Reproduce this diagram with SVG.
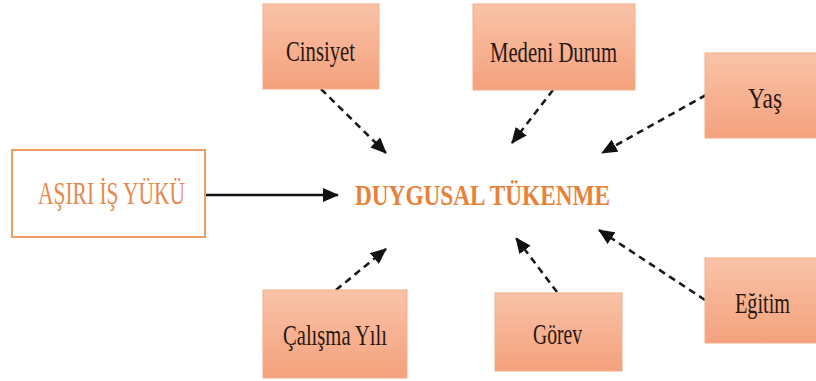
<svg xmlns="http://www.w3.org/2000/svg" width="816" height="381" viewBox="0 0 816 381">
<defs>
<linearGradient id="fillG" x1="0" y1="0" x2="0" y2="1">
<stop offset="0" stop-color="#F9C3A8"/>
<stop offset="1" stop-color="#F4A17C"/>
</linearGradient>
<marker id="ah" markerUnits="userSpaceOnUse" markerWidth="16" markerHeight="14" viewBox="0 0 16 14" refX="15" refY="7" orient="auto">
<path d="M0,0 L16,7 L0,14 z" fill="#111"/>
</marker>
<style>
.box{fill:url(#fillG);stroke:#F2AE8C;stroke-width:1}
.lbl{font-family:"Liberation Serif","Times New Roman",serif;font-size:30px;fill:#2A1710}
.dash{fill:none;stroke:#1a1a1a;stroke-width:2.6;stroke-dasharray:7 5;marker-end:url(#ah)}
.solid{fill:none;stroke:#111;stroke-width:2.6;marker-end:url(#ah)}
</style>
</defs>
<rect width="816" height="381" fill="#fff"/>
<g id="connectors">
<line class="solid" x1="206" y1="195" x2="338" y2="195"/>
<line class="dash" x1="321" y1="89" x2="386" y2="153"/>
<line class="dash" x1="553" y1="90" x2="512" y2="143"/>
<line class="dash" x1="706" y1="95" x2="602" y2="153"/>
<line class="dash" x1="336" y1="290" x2="386" y2="249"/>
<line class="dash" x1="557" y1="292" x2="516" y2="238"/>
<line class="dash" x1="705" y1="300" x2="599" y2="230"/>
</g>
<g id="asiri">
<rect x="12" y="150" width="193" height="87" fill="#fff" stroke="#EE9C66" stroke-width="2"/>
<text x="38" y="204" font-family="Liberation Serif,serif" font-size="31" fill="#E5894D" textLength="147" lengthAdjust="spacingAndGlyphs">AŞIRI İŞ YÜKÜ</text>
</g>
<g id="duygusal">
<text x="355" y="205" font-family="Liberation Serif,serif" font-size="30" font-weight="bold" fill="#E8823A" textLength="255" lengthAdjust="spacingAndGlyphs">DUYGUSAL TÜKENME</text>
</g>
<g id="cinsiyet">
<rect class="box" x="263" y="4" width="116" height="85"/>
<text class="lbl" x="286" y="61" textLength="69" lengthAdjust="spacingAndGlyphs">Cinsiyet</text>
</g>
<g id="medeni">
<rect class="box" x="473" y="4" width="162" height="86"/>
<text class="lbl" x="490" y="62" textLength="127" lengthAdjust="spacingAndGlyphs">Medeni Durum</text>
</g>
<g id="yas">
<rect class="box" x="705" y="53" width="115" height="85"/>
<text class="lbl" x="748" y="108" textLength="34" lengthAdjust="spacingAndGlyphs">Yaş</text>
</g>
<g id="calisma">
<rect class="box" x="263" y="290" width="144" height="88"/>
<text class="lbl" x="283" y="345" textLength="104" lengthAdjust="spacingAndGlyphs">Çalışma Yılı</text>
</g>
<g id="gorev">
<rect class="box" x="495" y="293" width="127" height="78"/>
<text class="lbl" x="533" y="344" textLength="49" lengthAdjust="spacingAndGlyphs">Görev</text>
</g>
<g id="egitim">
<rect class="box" x="705" y="258" width="115" height="85"/>
<text class="lbl" x="735" y="313" textLength="55" lengthAdjust="spacingAndGlyphs">Eğitim</text>
</g>
</svg>
